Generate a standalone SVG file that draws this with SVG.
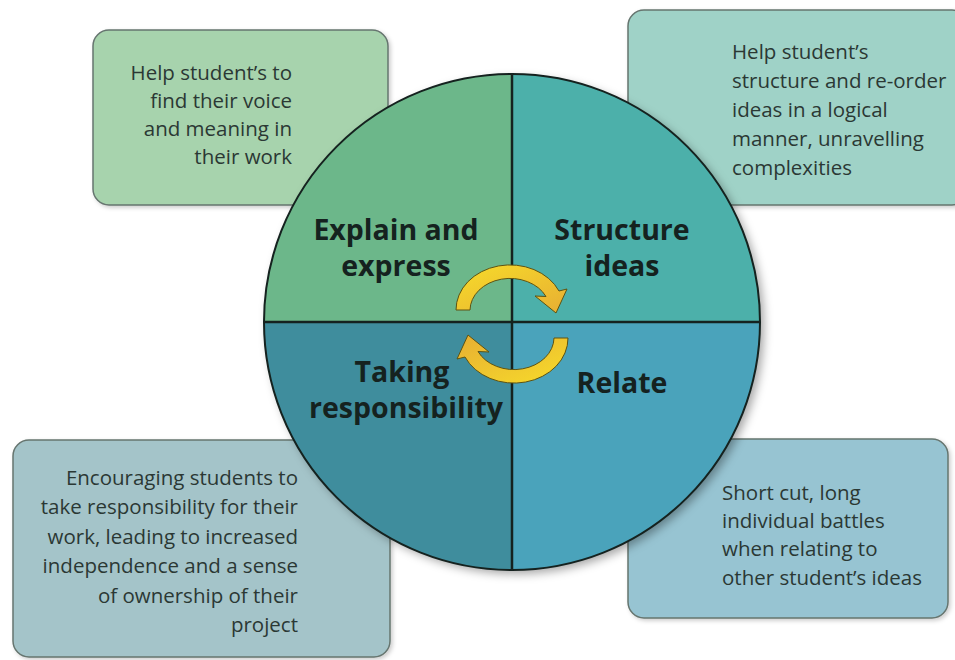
<svg xmlns="http://www.w3.org/2000/svg" width="955" height="660" viewBox="0 0 955 660">
<defs>
<filter id="sh" x="-20%" y="-20%" width="140%" height="140%">
<feDropShadow dx="4" dy="4" stdDeviation="5" flood-color="#000" flood-opacity="0.35"/>
</filter>
<filter id="bsh" x="-10%" y="-10%" width="120%" height="120%">
<feDropShadow dx="2" dy="2" stdDeviation="2" flood-color="#000" flood-opacity="0.2"/>
</filter>
<linearGradient id="yg" x1="0" y1="0" x2="1" y2="1">
<stop offset="0" stop-color="#f7dc2a"/>
<stop offset="1" stop-color="#e7ae33"/>
</linearGradient>
<clipPath id="cc"><circle cx="512" cy="322" r="248"/></clipPath>
</defs>
<style>
.box{stroke:#66756f;stroke-width:1.5}
.bt{font-family:"Open Sans","Noto Sans",sans-serif;font-size:20.5px;fill:#2b3834}
.r{text-anchor:end}
.hd{font-family:"Open Sans","Noto Sans",sans-serif;font-size:28.5px;font-weight:bold;fill:#15221f;text-anchor:middle}
.ln{stroke:#15221f;stroke-width:2.5}
.arr{fill:url(#yg);stroke:#5e5312;stroke-width:1}
</style>
<rect width="955" height="660" fill="#fff"/>
<g id="box-tl">
<rect class="box" x="93" y="30" width="295" height="175" rx="16" fill="#a7d3ad" filter="url(#bsh)"/>
<text class="bt r" x="292"><tspan x="292" y="80">Help student’s to</tspan><tspan x="292" y="108">find their voice</tspan><tspan x="292" y="136">and meaning in</tspan><tspan x="292" y="164">their work</tspan></text>
</g>
<g id="box-tr">
<rect class="box" x="628" y="10" width="340" height="195" rx="16" fill="#9fd2c7" filter="url(#bsh)"/>
<text class="bt" x="732"><tspan x="732" y="59">Help student’s</tspan><tspan x="732" y="88">structure and re-order</tspan><tspan x="732" y="117">ideas in a logical</tspan><tspan x="732" y="146">manner, unravelling</tspan><tspan x="732" y="175">complexities</tspan></text>
</g>
<g id="box-bl">
<rect class="box" x="13" y="440" width="377" height="217" rx="16" fill="#a4c4c9" filter="url(#bsh)"/>
<text class="bt r" x="298"><tspan x="298" y="485">Encouraging students to</tspan><tspan x="298" y="514">take responsibility for their</tspan><tspan x="298" y="544">work, leading to increased</tspan><tspan x="298" y="573">independence and a sense</tspan><tspan x="298" y="603">of ownership of their</tspan><tspan x="298" y="632">project</tspan></text>
</g>
<g id="box-br">
<rect class="box" x="628" y="439" width="320" height="179" rx="16" fill="#97c4d2" filter="url(#bsh)"/>
<text class="bt" x="722"><tspan x="722" y="500">Short cut, long</tspan><tspan x="722" y="528">individual battles</tspan><tspan x="722" y="556">when relating to</tspan><tspan x="722" y="585">other student’s ideas</tspan></text>
</g>
<g id="wheel">
<circle cx="512" cy="322" r="248" fill="#4aa3bb" filter="url(#sh)"/>
<g clip-path="url(#cc)">
<rect x="260" y="70" width="252" height="252" fill="#6cb78a"/>
<rect x="512" y="70" width="252" height="252" fill="#4cb0aa"/>
<rect x="260" y="322" width="252" height="252" fill="#3f8d9d"/>
<rect x="512" y="322" width="252" height="252" fill="#4aa3bb"/>
</g>
<circle cx="512" cy="322" r="248" fill="none" stroke="#15221f" stroke-width="2"/>
<line class="ln" x1="512" y1="74" x2="512" y2="570"/>
<line class="ln" x1="264" y1="322" x2="760" y2="322"/>
</g>
<g id="q-explain"><text class="hd"><tspan x="396" y="240">Explain and</tspan><tspan x="396" y="276">express</tspan></text></g>
<g id="q-structure"><text class="hd"><tspan x="622" y="240">Structure</tspan><tspan x="622" y="276">ideas</tspan></text></g>
<g id="q-taking"><text class="hd"><tspan x="402" y="382">Taking</tspan><tspan x="406" y="418">responsibility</tspan></text></g>
<g id="q-relate"><text class="hd"><tspan x="622" y="393">Relate</tspan></text></g>
<g id="connectors">
<path class="arr" d="M456 310 A54 45 0 0 1 559 291 L567 289 L556 313 L535 296 L546 296.5 A40 32 0 0 0 470 310 Z"/>
<path class="arr" transform="rotate(180 512 324)" d="M456 310 A54 45 0 0 1 559 291 L567 289 L556 313 L535 296 L546 296.5 A40 32 0 0 0 470 310 Z"/>
</g>
</svg>
